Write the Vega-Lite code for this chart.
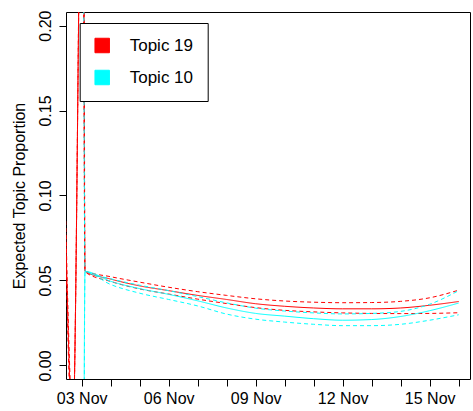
{
  "$schema": "https://vega.github.io/schema/vega-lite/v6.json",
  "autosize": "none",
  "width": 404,
  "height": 367,
  "padding": {"left": 66, "top": 12, "right": 3, "bottom": 32},
  "background": "white",
  "config": {
    "view": {"stroke": "black", "strokeWidth": 1},
    "font": "Liberation Sans",
    "axis": {"grid": false, "domain": false, "tickColor": "black", "tickSize": 7, "tickWidth": 1, "labelColor": "black", "labelFont": "Liberation Sans", "labelFontSize": 16, "titleFont": "Liberation Sans", "titleFontSize": 16, "titleFontWeight": "normal", "titleColor": "black"}
  },
  "data": {"values": [
    {"topic": "Topic 19", "band": "estimate", "day": 2.45, "value": 0.078},
    {"topic": "Topic 19", "band": "estimate", "day": 2.693, "value": -0.037},
    {"topic": "Topic 19", "band": "estimate", "day": 3.045, "value": 0.361},
    {"topic": "Topic 19", "band": "estimate", "day": 3.114, "value": 0.0553},
    {"topic": "Topic 19", "band": "estimate", "day": 4, "value": 0.0508},
    {"topic": "Topic 19", "band": "estimate", "day": 5, "value": 0.0468},
    {"topic": "Topic 19", "band": "estimate", "day": 6, "value": 0.0440},
    {"topic": "Topic 19", "band": "estimate", "day": 7, "value": 0.0412},
    {"topic": "Topic 19", "band": "estimate", "day": 8, "value": 0.0388},
    {"topic": "Topic 19", "band": "estimate", "day": 9, "value": 0.0363},
    {"topic": "Topic 19", "band": "estimate", "day": 10, "value": 0.0348},
    {"topic": "Topic 19", "band": "estimate", "day": 11, "value": 0.0338},
    {"topic": "Topic 19", "band": "estimate", "day": 12, "value": 0.0333},
    {"topic": "Topic 19", "band": "estimate", "day": 13, "value": 0.0333},
    {"topic": "Topic 19", "band": "estimate", "day": 14, "value": 0.0338},
    {"topic": "Topic 19", "band": "estimate", "day": 15, "value": 0.0354},
    {"topic": "Topic 19", "band": "estimate", "day": 16, "value": 0.0376},

    {"topic": "Topic 19", "band": "upper", "day": 2.45, "value": 0.085},
    {"topic": "Topic 19", "band": "upper", "day": 2.70, "value": -0.032},
    {"topic": "Topic 19", "band": "upper", "day": 3.06, "value": 0.40},
    {"topic": "Topic 19", "band": "upper", "day": 3.114, "value": 0.0556},
    {"topic": "Topic 19", "band": "upper", "day": 4, "value": 0.0522},
    {"topic": "Topic 19", "band": "upper", "day": 5, "value": 0.0490},
    {"topic": "Topic 19", "band": "upper", "day": 6, "value": 0.0460},
    {"topic": "Topic 19", "band": "upper", "day": 7, "value": 0.0434},
    {"topic": "Topic 19", "band": "upper", "day": 8, "value": 0.0412},
    {"topic": "Topic 19", "band": "upper", "day": 9, "value": 0.0392},
    {"topic": "Topic 19", "band": "upper", "day": 10, "value": 0.0379},
    {"topic": "Topic 19", "band": "upper", "day": 11, "value": 0.0372},
    {"topic": "Topic 19", "band": "upper", "day": 12, "value": 0.0369},
    {"topic": "Topic 19", "band": "upper", "day": 13, "value": 0.0370},
    {"topic": "Topic 19", "band": "upper", "day": 14, "value": 0.0377},
    {"topic": "Topic 19", "band": "upper", "day": 15, "value": 0.0398},
    {"topic": "Topic 19", "band": "upper", "day": 16, "value": 0.0443},

    {"topic": "Topic 19", "band": "lower", "day": 2.45, "value": 0.070},
    {"topic": "Topic 19", "band": "lower", "day": 2.685, "value": -0.045},
    {"topic": "Topic 19", "band": "lower", "day": 3.03, "value": 0.33},
    {"topic": "Topic 19", "band": "lower", "day": 3.114, "value": 0.0550},
    {"topic": "Topic 19", "band": "lower", "day": 4, "value": 0.0494},
    {"topic": "Topic 19", "band": "lower", "day": 5, "value": 0.0450},
    {"topic": "Topic 19", "band": "lower", "day": 6, "value": 0.0420},
    {"topic": "Topic 19", "band": "lower", "day": 7, "value": 0.0390},
    {"topic": "Topic 19", "band": "lower", "day": 8, "value": 0.0364},
    {"topic": "Topic 19", "band": "lower", "day": 9, "value": 0.0340},
    {"topic": "Topic 19", "band": "lower", "day": 10, "value": 0.0324},
    {"topic": "Topic 19", "band": "lower", "day": 11, "value": 0.0315},
    {"topic": "Topic 19", "band": "lower", "day": 12, "value": 0.0309},
    {"topic": "Topic 19", "band": "lower", "day": 13, "value": 0.0306},
    {"topic": "Topic 19", "band": "lower", "day": 14, "value": 0.0305},
    {"topic": "Topic 19", "band": "lower", "day": 15, "value": 0.0306},
    {"topic": "Topic 19", "band": "lower", "day": 16, "value": 0.0310},

    {"topic": "Topic 10", "band": "estimate", "day": 3.0, "value": -0.8},
    {"topic": "Topic 10", "band": "estimate", "day": 3.114, "value": 0.0553},
    {"topic": "Topic 10", "band": "estimate", "day": 4, "value": 0.0495},
    {"topic": "Topic 10", "band": "estimate", "day": 5, "value": 0.0452},
    {"topic": "Topic 10", "band": "estimate", "day": 6, "value": 0.0418},
    {"topic": "Topic 10", "band": "estimate", "day": 7, "value": 0.0380},
    {"topic": "Topic 10", "band": "estimate", "day": 8, "value": 0.0338},
    {"topic": "Topic 10", "band": "estimate", "day": 9, "value": 0.0306},
    {"topic": "Topic 10", "band": "estimate", "day": 10, "value": 0.0290},
    {"topic": "Topic 10", "band": "estimate", "day": 11, "value": 0.0275},
    {"topic": "Topic 10", "band": "estimate", "day": 12, "value": 0.0266},
    {"topic": "Topic 10", "band": "estimate", "day": 13, "value": 0.0270},
    {"topic": "Topic 10", "band": "estimate", "day": 14, "value": 0.0288},
    {"topic": "Topic 10", "band": "estimate", "day": 15, "value": 0.0322},
    {"topic": "Topic 10", "band": "estimate", "day": 16, "value": 0.0367},

    {"topic": "Topic 10", "band": "upper", "day": 3.0, "value": 1.0},
    {"topic": "Topic 10", "band": "upper", "day": 3.114, "value": 0.0556},
    {"topic": "Topic 10", "band": "upper", "day": 4, "value": 0.0510},
    {"topic": "Topic 10", "band": "upper", "day": 5, "value": 0.0472},
    {"topic": "Topic 10", "band": "upper", "day": 6, "value": 0.0440},
    {"topic": "Topic 10", "band": "upper", "day": 7, "value": 0.0405},
    {"topic": "Topic 10", "band": "upper", "day": 8, "value": 0.0368},
    {"topic": "Topic 10", "band": "upper", "day": 9, "value": 0.0337},
    {"topic": "Topic 10", "band": "upper", "day": 10, "value": 0.0320},
    {"topic": "Topic 10", "band": "upper", "day": 11, "value": 0.0309},
    {"topic": "Topic 10", "band": "upper", "day": 12, "value": 0.0303},
    {"topic": "Topic 10", "band": "upper", "day": 13, "value": 0.0306},
    {"topic": "Topic 10", "band": "upper", "day": 14, "value": 0.0318},
    {"topic": "Topic 10", "band": "upper", "day": 15, "value": 0.0360},
    {"topic": "Topic 10", "band": "upper", "day": 16, "value": 0.0440},

    {"topic": "Topic 10", "band": "lower", "day": 3.0, "value": -1.2},
    {"topic": "Topic 10", "band": "lower", "day": 3.114, "value": 0.0550},
    {"topic": "Topic 10", "band": "lower", "day": 4, "value": 0.0476},
    {"topic": "Topic 10", "band": "lower", "day": 5, "value": 0.0425},
    {"topic": "Topic 10", "band": "lower", "day": 6, "value": 0.0388},
    {"topic": "Topic 10", "band": "lower", "day": 7, "value": 0.0350},
    {"topic": "Topic 10", "band": "lower", "day": 8, "value": 0.0302},
    {"topic": "Topic 10", "band": "lower", "day": 9, "value": 0.0272},
    {"topic": "Topic 10", "band": "lower", "day": 10, "value": 0.0255},
    {"topic": "Topic 10", "band": "lower", "day": 11, "value": 0.0242},
    {"topic": "Topic 10", "band": "lower", "day": 12, "value": 0.0234},
    {"topic": "Topic 10", "band": "lower", "day": 13, "value": 0.0234},
    {"topic": "Topic 10", "band": "lower", "day": 14, "value": 0.0242},
    {"topic": "Topic 10", "band": "lower", "day": 15, "value": 0.0266},
    {"topic": "Topic 10", "band": "lower", "day": 16, "value": 0.0298}
  ]},
  "mark": {"type": "line", "clip": true, "strokeWidth": 1, "interpolate": "monotone"},
  "encoding": {
    "x": {
      "field": "day", "type": "quantitative",
      "scale": {"domain": [2.459, 16.39], "nice": false, "zero": false},
      "axis": {
        "title": null,
        "values": [3, 4, 5, 6, 7, 8, 9, 10, 11, 12, 13, 14, 15, 16],
        "labelExpr": "datum.value % 3 == 0 ? (datum.value < 10 ? '0' : '') + datum.value + ' Nov' : ''",
        "labelBaseline": "alphabetic",
        "labelPadding": 17,
        "labelOverlap": false,
        "labelFlush": false
      }
    },
    "y": {
      "field": "value", "type": "quantitative",
      "scale": {"domain": [-0.008, 0.208], "nice": false, "zero": false},
      "axis": {
        "title": "Expected Topic Proportion",
        "values": [0, 0.05, 0.1, 0.15, 0.2],
        "format": ".2f",
        "labelAngle": -90,
        "labelAlign": "center",
        "labelBaseline": "alphabetic",
        "labelPadding": 9,
        "labelFlush": false,
        "labelOverlap": false,
        "titleAngle": -90,
        "titleAlign": "center",
        "titleBaseline": "alphabetic",
        "titleX": -42,
        "titleY": 183.5
      }
    },
    "color": {
      "field": "topic", "type": "nominal",
      "scale": {"domain": ["Topic 19", "Topic 10"], "range": ["#FF0000", "#00FFFF"]},
      "legend": {
        "orient": "none", "legendX": 13.7, "legendY": 11,
        "title": null,
        "symbolType": "square", "symbolSize": 210,
        "symbolStrokeColor": "black", "symbolStrokeWidth": 1,
        "labelFont": "Liberation Sans", "labelFontSize": 17, "labelColor": "black",
        "labelOffset": 19, "rowPadding": 13, "padding": 14,
        "labelExpr": "datum.label + ' '",
        "strokeColor": "black", "fillColor": "white",
        "encode": {"symbols": {"update": {"fill": {"scale": "color", "field": "value"}, "fillOpacity": {"value": 1}, "stroke": {"value": "black"}, "strokeWidth": {"value": 1}, "strokeDash": {"value": []}}}}
      }
    },
    "strokeDash": {
      "field": "band", "type": "nominal",
      "scale": {"domain": ["estimate", "upper", "lower"], "range": [[1, 0], [4, 3], [4, 3]]},
      "legend": null
    }
  }
}
